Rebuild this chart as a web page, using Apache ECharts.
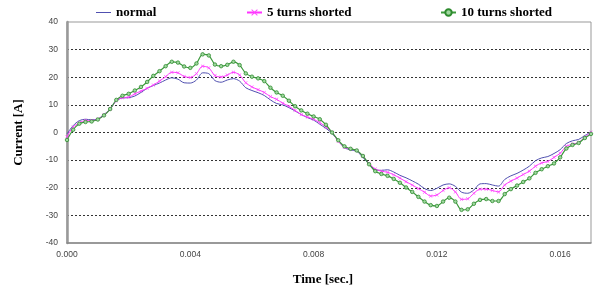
<!DOCTYPE html>
<html>
<head>
<meta charset="utf-8">
<script src="https://cdn.jsdelivr.net/npm/echarts@6/dist/echarts.min.js"></script>
<style>html,body{margin:0;padding:0;background:#fff;}#c{width:594px;height:291px;}</style>
</head>
<body>
<div id="c"></div>
<script>
// time in milliseconds (converted to seconds for the axis)
const timeMs = [0.0,0.2,0.4,0.6,0.8,1.0,1.2,1.4,1.6,1.8,2.0,2.2,2.4,2.6,2.8,3.0,3.2,3.4,3.6,3.8,4.0,4.2,4.4,4.6,4.8,5.0,5.2,5.4,5.6,5.8,6.0,6.2,6.4,6.6,6.8,7.0,7.2,7.4,7.6,7.8,8.0,8.2,8.4,8.6,8.8,9.0,9.2,9.4,9.6,9.8,10.0,10.2,10.4,10.6,10.8,11.0,11.2,11.4,11.6,11.8,12.0,12.2,12.4,12.6,12.8,13.0,13.2,13.4,13.6,13.8,14.0,14.2,14.4,14.6,14.8,15.0,15.2,15.4,15.6,15.8,16.0,16.2,16.4,16.6,16.8,17.0];
const normal = [-0.5,2.5,4.3,4.8,4.6,4.9,6.5,8.5,11.5,12.5,12.6,13.2,14.5,16.0,17.0,17.9,19.0,19.8,19.3,18.0,17.9,19.0,21.6,21.3,18.8,18.2,19.0,19.5,18.6,16.2,15.2,14.4,13.4,11.8,10.5,10.0,9.0,7.8,6.5,5.4,4.5,3.0,1.5,-0.3,-3.0,-5.5,-6.3,-6.8,-9.0,-11.5,-13.4,-13.7,-13.5,-14.3,-15.5,-16.4,-17.5,-18.7,-20.3,-21.0,-20.2,-19.0,-18.6,-19.5,-21.6,-22.0,-20.8,-18.6,-18.5,-19.0,-19.4,-17.0,-15.7,-14.8,-13.6,-12.2,-10.2,-9.2,-8.7,-7.6,-6.2,-4.0,-3.0,-2.5,-1.1,0.2];
const turns5 = [-1.5,2.0,3.5,4.3,4.3,4.8,6.3,8.5,11.5,12.6,12.8,14.0,15.0,16.0,17.2,18.6,20.2,21.8,21.6,20.3,19.9,21.3,24.0,23.4,20.6,20.1,20.8,21.8,20.8,18.0,16.5,15.5,14.5,13.0,12.0,10.6,9.5,8.0,6.5,5.6,4.8,3.6,2.0,0.1,-3.2,-5.3,-6.0,-6.5,-8.6,-11.2,-13.2,-14.0,-14.4,-15.3,-16.5,-17.8,-19.0,-20.3,-21.6,-23.0,-22.6,-21.0,-20.0,-21.5,-24.2,-24.0,-22.0,-20.5,-20.5,-21.0,-21.5,-19.0,-17.6,-16.5,-15.2,-14.0,-12.2,-11.0,-10.5,-9.0,-7.5,-5.0,-4.2,-3.6,-1.7,0.1];
const turns10 = [-2.7,1.0,3.2,3.8,4.0,4.7,6.2,8.5,11.8,13.3,14.0,15.2,16.5,18.3,20.5,22.2,24.0,25.6,25.3,23.9,23.4,25.0,28.3,27.9,24.6,24.0,24.5,25.6,24.4,21.4,20.2,19.6,18.6,16.2,14.5,13.3,11.5,9.5,8.0,6.8,5.8,4.8,2.8,0.0,-2.8,-5.0,-5.9,-6.5,-8.5,-11.5,-14.0,-15.0,-15.7,-16.8,-18.2,-19.9,-21.5,-23.3,-25.0,-26.3,-26.6,-25.0,-23.6,-25.0,-28.0,-27.8,-25.8,-24.4,-24.1,-24.8,-24.8,-22.3,-20.5,-19.2,-17.9,-16.6,-14.6,-13.3,-12.2,-11.2,-9.0,-5.8,-4.5,-3.8,-2.0,-0.5];
const seriesNames = ['normal', '5 turns shorted', '10 turns shorted'];
const xTicks = [0.000, 0.004, 0.008, 0.012, 0.016];
const yTicks = [-40, -30, -20, -10, 0, 10, 20, 30, 40];

const pair = arr => arr.map((v, i) => [timeMs[i] / 1000, v]);
const serif = '"Liberation Serif", "Times New Roman", serif';
const legendText = {fontFamily: serif, fontWeight: 'bold', fontSize: 13, color: '#000'};
const xMark = 'path://M0,1L1,0L5,4L9,0L10,1L6,5L10,9L9,10L5,6L1,10L0,9L4,5Z';
const lineIcon = 'path://M0,0L30,0L30,2L0,2Z';

const chart = echarts.init(document.getElementById('c'), null, {renderer: 'canvas'});
chart.setOption({
  animation: false,
  backgroundColor: '#fff',
  grid: {left: 67, top: 22, width: 525, height: 226, show: true, borderColor: '#999', borderWidth: 1, backgroundColor: 'transparent'},
  legend: [
    {data: [{name: seriesNames[0], icon: lineIcon}], left: 96, top: 6, itemWidth: 15, itemHeight: 8, itemGap: 5, textStyle: legendText, padding: 0},
    {data: [seriesNames[1]], left: 246, top: 6, itemWidth: 15, itemHeight: 8, textStyle: legendText, padding: 0},
    {data: [seriesNames[2]], left: 440, top: 6, itemWidth: 15, itemHeight: 8, textStyle: legendText, padding: 0}
  ],
  xAxis: {
    type: 'value', min: xTicks[0], max: 0.017, interval: 0.004,
    name: 'Time [sec.]', nameLocation: 'middle', nameGap: 30,
    nameTextStyle: {fontFamily: serif, fontWeight: 'bold', fontSize: 13, color: '#000', padding: [0, 12, 0, 0]},
    axisLine: {onZero: false, lineStyle: {color: '#888', width: 1.5}},
    axisTick: {show: false},
    splitLine: {show: false},
    axisLabel: {
      margin: 7, fontFamily: '"Liberation Sans", Arial, sans-serif', fontSize: 8.5, color: '#444',
      formatter: v => xTicks.some(t => Math.abs(t - v) < 1e-9) ? v.toFixed(3) : ''
    }
  },
  yAxis: {
    type: 'value', min: yTicks[0], max: yTicks[yTicks.length - 1], interval: 10,
    name: 'Current [A]', nameLocation: 'middle', nameGap: 42, nameRotate: 90,
    nameTextStyle: {fontFamily: serif, fontWeight: 'bold', fontSize: 13, color: '#000'},
    axisLine: {show: true, lineStyle: {color: '#999', width: 2.5}},
    axisTick: {show: false},
    axisLabel: {margin: 9, fontFamily: '"Liberation Sans", Arial, sans-serif', fontSize: 8.5, color: '#444'},
    splitLine: {show: true, showMinLine: false, showMaxLine: false, lineStyle: {type: [2, 2], color: '#333', width: 1}}
  },
  series: [
    {name: seriesNames[0], type: 'line', data: pair(normal), symbol: 'none', smooth: 0.3,
      lineStyle: {color: '#5050b0', width: 1}, itemStyle: {color: '#5050b0'}},
    {name: seriesNames[1], type: 'line', data: pair(turns5), symbol: xMark, symbolSize: 3.5, showAllSymbol: true, smooth: 0.3,
      lineStyle: {color: '#ff33ff', width: 1}, itemStyle: {color: '#ff44ff'}},
    {name: seriesNames[2], type: 'line', data: pair(turns10), symbol: 'circle', symbolSize: 3.5, showAllSymbol: true, smooth: 0.3,
      lineStyle: {color: '#3c9a3c', width: 1.2}, itemStyle: {color: '#a0d8a0', borderColor: '#2e8b2e', borderWidth: 0.8}}
  ]
});
</script>
</body>
</html>
